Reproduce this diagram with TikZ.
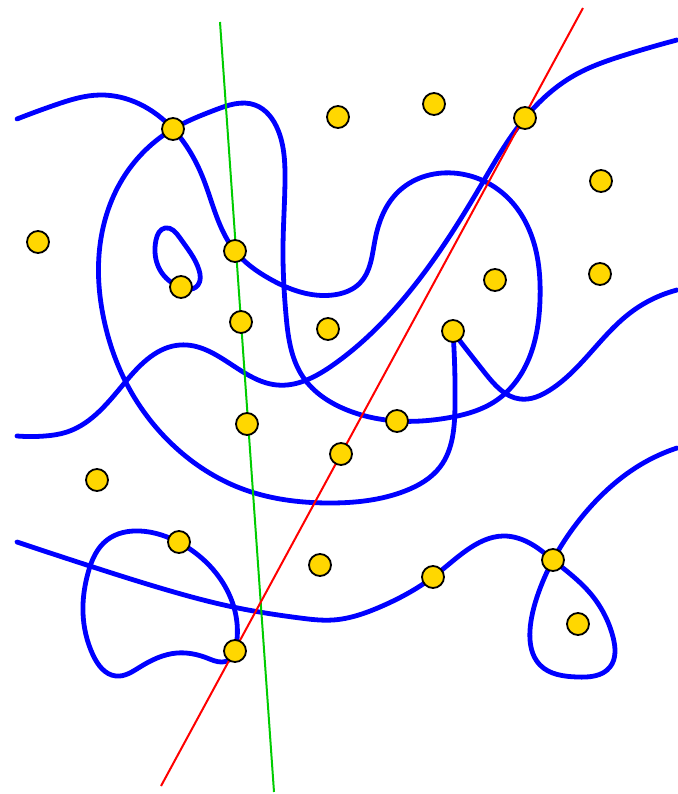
\documentclass[tikz,border=0pt]{standalone}
\usetikzlibrary{hobby}
\begin{document}
\begin{tikzpicture}[x=1pt,y=-1pt,use Hobby shortcut,
  curve/.style={draw=blue,line width=4.8pt,line cap=round,line join=round},
  gline/.style={draw={rgb,255:red,0;green,204;blue,0},line width=2pt},
  rline/.style={draw=red,line width=2pt},
  dot/.style={circle,draw=black,line width=1.8pt,fill={rgb,255:red,255;green,215;blue,0},minimum size=22pt,inner sep=0pt}]
\useasboundingbox (0,0) rectangle (677,794);
% blue curves
\draw[curve] (17,119) .. (55,105) .. (100,95) .. (173,129) .. (203,178) .. (220,225) .. (235,251) .. (270,279) .. (333,295) .. (360,283) .. (375,240) .. (397,193) .. (453,173) .. (510,200) .. (533,240) .. (540,300) .. (527,363) .. (497,400) .. (447,418) .. (397,421) .. (347,410) .. (303,377) .. (286,315) .. (283,247) .. (285,180) .. (278,130) .. (255,105) .. (215,110) .. (173,129) .. (125,175) .. (100,245) .. (104,320) .. (130,390) .. (175,447) .. (240,488) .. (330,503) .. (405,491) .. (440,467) .. (455,405) .. (453,332);
\draw[curve] (453,332) .. (485,373) .. (520,399) .. (550,390) .. (630,313) .. (677,290);
\draw[curve] (17,436) .. (45,436) .. (67,432) .. (127,380) .. (180,345) .. (277,385) .. (333,365) .. (400,303) .. (480,187) .. (525,118) .. (575,75) .. (625,55) .. (677,40);
\draw[curve] (181,287) .. (160,270) .. (156,240) .. (165,228) .. (180,238) .. (199,270) .. (198,285) .. (188,289);
\draw[curve] (17,542) .. (93,567) .. (167,590) .. (233,607) .. (300,618) .. (333,620) .. (380,607) .. (433,577) .. (467,550) .. (503,536) .. (533,545) .. (553,560) .. (590,593) .. (613,637) .. (610,667) .. (577,677) .. (540,665) .. (530,630) .. (537,597) .. (553,560) .. (577,523) .. (607,490) .. (640,465) .. (677,448);
\draw[curve] (235,651) .. (237,623) .. (227,590) .. (207,563) .. (180,543) .. (140,531) .. (107,540) .. (88,573) .. (83,613) .. (93,655) .. (116,676) .. (140,667) .. (177,653) .. (207,658) .. (222,662) .. (233,657);
% straight lines
\coordinate (g1) at (220,22);
\coordinate (g2) at (274,792);
\coordinate (r1) at (583,8);
\coordinate (r2) at (161,786);
\draw[gline] (g1) -- (g2);
\draw[rline] (r1) -- (r2);
% dots
\foreach \n/\p in {d1/{(173,129)},d2/{(338,117)},d3/{(434,104)},d4/{(525,118)},d5/{(601,181)},d6/{(38,242)},d7/{(235,251)},d8/{(181,287)},d9/{(495,280)},d10/{(600,274)},d11/{(241,322)},d12/{(328,329)},d13/{(453,331)},d14/{(247,424)},d15/{(397,421)},d16/{(341,454)},d17/{(97,480)},d18/{(179,542)},d19/{(320,565)},d20/{(433,577)},d21/{(553,560)},d22/{(578,624)},d23/{(235,651)}}
  \node[dot] (\n) at \p {};
\end{tikzpicture}
\end{document}
